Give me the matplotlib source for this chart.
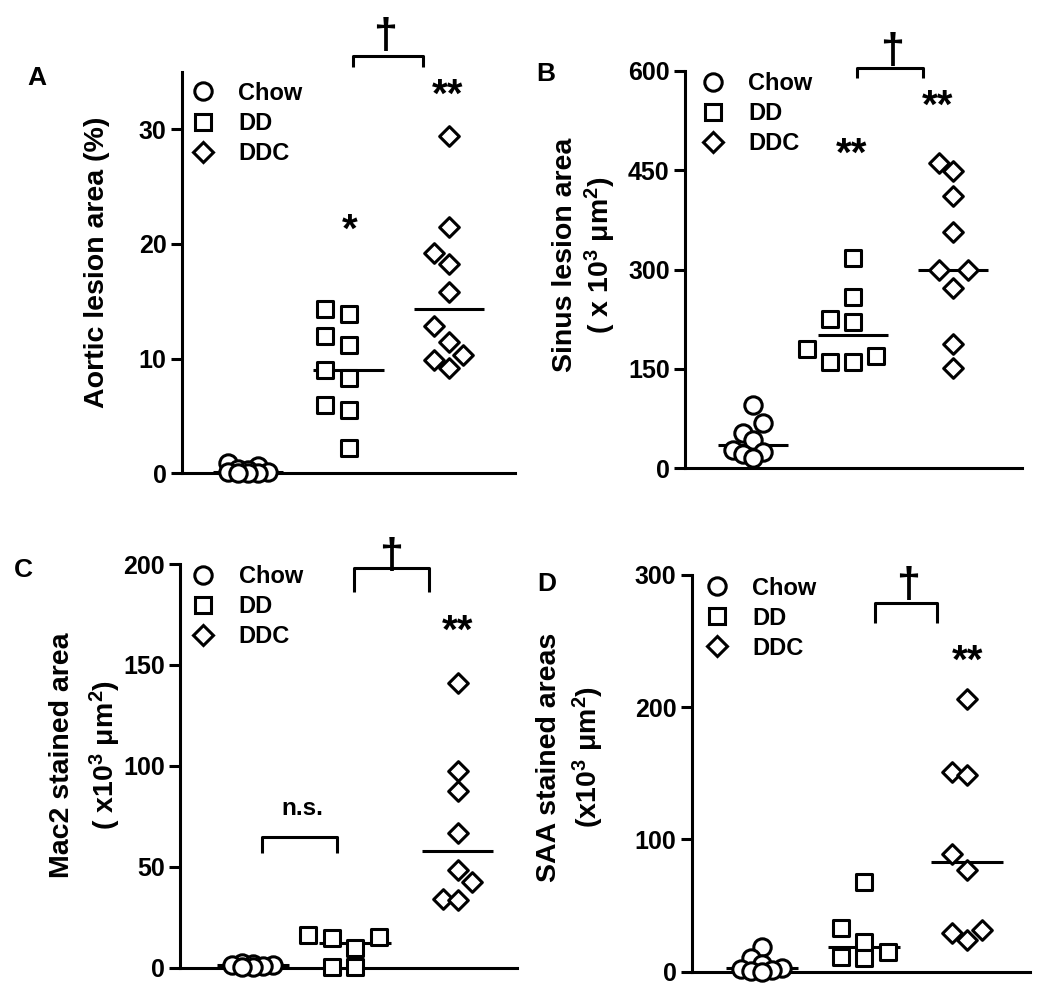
import numpy as np
import matplotlib
matplotlib.use("Agg")
import matplotlib.pyplot as plt
from matplotlib.lines import Line2D

plt.rcParams["font.family"] = "Liberation Sans"
plt.rcParams["font.weight"] = "bold"
plt.rcParams["mathtext.fontset"] = "custom"
plt.rcParams["mathtext.rm"] = "Liberation Sans:bold"
plt.rcParams["mathtext.it"] = "Liberation Sans:bold"
plt.rcParams["mathtext.bf"] = "Liberation Sans:bold"

groups = ["Chow", "DD", "DDC"]

# A - aortic lesion area (%)
aortic_chow = [0.9, 0.6, 0.4, 0.3, 0.1, 0.1, 0.05, 0.0, 0.0]
aortic_dd = [14.35, 13.85, 11.95, 11.2, 9.0, 8.3, 5.95, 5.5, 2.2]
aortic_ddc = [29.4, 21.5, 19.2, 18.2, 15.8, 12.8, 11.4, 10.3, 9.9, 9.2]

# B - sinus lesion area (x10^3 um^2)
sinus_chow = [95, 68, 53, 43, 28, 25, 22, 15]
sinus_dd = [317, 258, 225, 221, 180, 170, 161, 161]
sinus_ddc = [461, 449, 411, 357, 299, 299, 272, 187, 152]

# C - Mac2 stained area
mac2_chow = [2.5, 2.0, 1.5, 1.5, 1.0, 0.5, 0.5]
mac2_dd = [16.2, 15.1, 14.6, 9.6, 0.5, 0.5]
mac2_ddc = [141, 97.6, 87.7, 66.9, 48.4, 42.6, 33.9, 33.5]

# D - SAA stained areas
saa_chow = [19, 10, 6, 3, 2, 1, 0.5, 0]
saa_dd = [68, 33, 22.7, 15.1, 11.3, 10.1]
saa_ddc = [206, 151, 149, 89, 77, 31.5, 29.5, 24]

W, H = 1050, 999
fig = plt.figure(figsize=(W / 100, H / 100), dpi=100)

LW = 2.2
STYLE = {  # marker, size, slot spacing, min vertical gap px
    "Chow": ("o", 12.5, 0.10, 17),
    "DD": ("s", 11.0, 0.23, 16),
    "DDC": ("D", 10.0, 0.145, 19),
}


def add_axes_px(left, top, right, bottom):
    return fig.add_axes([left / W, 1 - bottom / H, (right - left) / W, (bottom - top) / H])


def swarm(ax, center, values, spacing, min_px, max_slot=2):
    vals = np.asarray(values, float)
    py = ax.transData.transform(np.column_stack([np.zeros_like(vals), vals]))[:, 1]
    slots = [0]
    for k in range(1, max_slot + 1):
        slots += [-k, k]
    placed = {s: [] for s in slots}
    out = np.zeros(len(vals))
    for i in np.argsort(vals, kind="stable"):
        best, best_gap = None, -1
        for s in slots:
            gap = min([abs(py[i] - p) for p in placed[s]], default=np.inf)
            if gap >= min_px:
                best = s
                break
            if gap > best_gap:
                best, best_gap = s, gap
        placed[best].append(py[i])
        out[i] = best
    return center + out * spacing


def panel(rect, xlim, ylim, yticks, data, legend_anchor):
    ax = add_axes_px(*rect)
    ax.set_xlim(*xlim)
    ax.set_ylim(*ylim)
    ax.set_yticks(yticks)
    ax.set_xticks([])
    for s in ["top", "right"]:
        ax.spines[s].set_visible(False)
    for s in ["left", "bottom"]:
        ax.spines[s].set_linewidth(LW)
    ax.tick_params(axis="y", length=8, width=LW, labelsize=18, pad=3)
    for label in ax.get_yticklabels():
        label.set_fontweight("bold")

    for i, (g, vals) in enumerate(zip(groups, data)):
        m, ms, sp, gap = STYLE[g]
        xs = swarm(ax, i, vals, sp, gap)
        ax.hlines(np.median(vals), i - 0.35, i + 0.35, color="black", lw=LW, zorder=2)
        ax.scatter(xs, vals, s=ms ** 2, marker=m, facecolors="white",
                   edgecolors="black", linewidths=LW, clip_on=False, zorder=3)

    handles = [Line2D([], [], ls="none", marker=STYLE[g][0], ms=STYLE[g][1],
                      mfc="white", mec="black", mew=LW) for g in groups]
    ax.legend(handles, groups, loc="upper left", bbox_to_anchor=legend_anchor,
              frameon=False, fontsize=17, handlelength=1.0, handletextpad=1.0,
              labelspacing=0.3, borderpad=0, borderaxespad=0)
    return ax


def bracket(ax, x1, x2, y, drop):
    ax.plot([x1, x1, x2, x2], [y - drop, y, y, y - drop], color="black",
            lw=LW, clip_on=False, solid_capstyle="butt")


def stars(ax, x, y, s, fs=29):
    # y is where the middle of the asterisks should sit
    ax.annotate(s, (x, y), xytext=(0, -0.435 * fs), textcoords="offset points",
                ha="center", va="baseline", fontsize=fs, annotation_clip=False)


def dagger(ax, x, y):
    ax.text(x, y, "\u2020", ha="center", va="bottom", fontsize=31, clip_on=False)


# A
axA = panel((182, 71.7, 515, 473.3), (-0.66, 2.66), (0, 35), [0, 10, 20, 30],
            [aortic_chow, aortic_dd, aortic_ddc], (0.027, 0.975))
stars(axA, 1.01, 21.7, "*")
stars(axA, 1.99, 33.5, "**")
bracket(axA, 1.048, 1.744, 36.4, 0.95)
dagger(axA, 1.363, 36.25)

# B
axB = panel((685, 70.7, 1022, 468.3), (-0.68, 2.69), (0, 600), [0, 150, 300, 450, 600],
            [sinus_chow, sinus_dd, sinus_ddc], (0.047, 0.997))
stars(axB, 0.99, 483, "**")
stars(axB, 1.85, 556, "**")
bracket(axB, 1.043, 1.703, 604.5, 15)
dagger(axB, 1.387, 598)

# C
axC = panel((180, 564, 517, 967.7), (-0.71, 2.58), (0, 200), [0, 50, 100, 150, 200],
            [mac2_chow, mac2_dd, mac2_ddc], (0.034, 0.998))
stars(axC, 2.0, 169.8, "**")
bracket(axC, 0.985, 1.72, 197.9, 11.6)
dagger(axC, 1.353, 193.6)
bracket(axC, 0.09, 0.82, 64.9, 8.2)
axC.text(0.485, 79.1, "n.s.", ha="center", va="center", fontsize=17.5)

# D
axD = panel((691.7, 575, 1030, 971.7), (-0.68, 2.61), (0, 300), [0, 100, 200, 300],
            [saa_chow, saa_dd, saa_ddc], (0.039, 0.996))
stars(axD, 2.0, 239.6, "**")
bracket(axD, 1.103, 1.704, 278.7, 15.2)
dagger(axD, 1.427, 276.6)

# panel letters
for letter, (x, y) in zip("ABCD", [(37, 78), (546, 74), (23, 570), (547, 584)]):
    fig.text(x / W, 1 - y / H, letter, fontsize=19, ha="center", va="center")

# y labels: text, centre in px, line spacing
ylabels = [
    ("Aortic lesion area (%)", (96.7, 262), 1.2),
    ("Sinus lesion area\n( x 10$^3$ \u03bcm$^2$)", (585, 255), 1.2),
    ("Mac2 stained area\n( x10$^3$ \u03bcm$^2$)", (86, 755), 1.5),
    ("SAA stained areas\n(x10$^3$ \u03bcm$^2$)", (571, 757), 1.35),
]
for text, (x, y), ls in ylabels:
    fig.text(x / W, 1 - y / H, text, rotation=90, fontsize=20.5, ha="center",
             va="center", multialignment="center", linespacing=ls)

fig.savefig("out.png", dpi=100)
